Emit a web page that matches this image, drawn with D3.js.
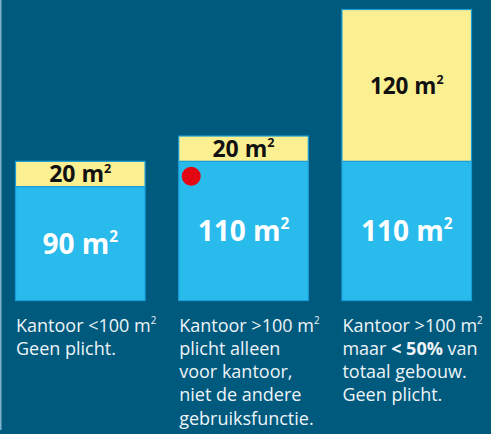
<!DOCTYPE html>
<html>
<head>
<meta charset="utf-8">
<script src="https://cdn.jsdelivr.net/npm/d3@7"></script>
<style>
  html, body { margin: 0; padding: 0; background: #005a7e; }
  svg { display: block; }
</style>
</head>
<body>
<svg></svg>
<script>
  var width = 491;
  var height = 434;

  // data
  var categories = ['a', 'b', 'c'];
  var kantoor = [90, 110, 110];     // blauw
  var overig = [20, 20, 120];       // geel
  var captions = [
    ['Kantoor <100 m^2', 'Geen plicht.'],
    ['Kantoor >100 m^2', 'plicht alleen', 'voor kantoor,', 'niet de andere', 'gebruiksfunctie.'],
    ['Kantoor >100 m^2', 'maar **< 50%** van', 'totaal gebouw.', 'Geen plicht.']
  ];
  var markIndex = 1; // rode stip

  var svg = d3.select('svg')
    .attr('width', width)
    .attr('height', height)
    .style('font-family', '"Open Sans", "Noto Sans", sans-serif');

  svg.append('rect')
    .attr('width', width)
    .attr('height', height)
    .attr('fill', '#005a7e');

  // dunne lijn links
  svg.append('rect')
    .attr('x', 0)
    .attr('y', 0)
    .attr('width', 1.5)
    .attr('height', 430)
    .attr('fill', '#7fb3cc');

  var x = d3.scaleBand()
    .domain(categories)
    .range([15, 472])
    .paddingInner(0.2)
    .paddingOuter(0);

  var y = d3.scaleLinear()
    .domain([0, 230])
    .range([300.5, 9.5]);

  // "m" met kleine superscript 2
  function m2(sel, value) {
    sel.append('tspan').text(value + ' m');
    sel.append('tspan')
      .attr('font-size', '0.55em')
      .attr('dy', '-0.75em')
      .text('2');
  }

  var g = svg.selectAll('g.bar')
    .data(categories)
    .enter()
    .append('g')
    .attr('class', 'bar');

  // blauw deel
  g.append('rect')
    .attr('x', function (d) { return x(d) + 0.5; })
    .attr('y', function (d, i) { return y(kantoor[i]); })
    .attr('width', x.bandwidth() - 1)
    .attr('height', function (d, i) { return y(0) - y(kantoor[i]); })
    .attr('fill', '#2abbed')
    .attr('stroke', '#1a9ed9')
    .attr('stroke-width', 1.2);

  // geel deel
  g.append('rect')
    .attr('x', function (d) { return x(d) + 0.5; })
    .attr('y', function (d, i) { return y(kantoor[i] + overig[i]); })
    .attr('width', x.bandwidth() - 1)
    .attr('height', function (d, i) { return y(kantoor[i]) - y(kantoor[i] + overig[i]); })
    .attr('fill', '#faf091')
    .attr('stroke', '#1a9ed9')
    .attr('stroke-width', 1.2);

  g.append('text')
    .attr('x', function (d) { return x(d) + x.bandwidth() / 2; })
    .attr('y', function (d, i) { return (y(0) + y(kantoor[i])) / 2; })
    .attr('dy', '0.36em')
    .attr('text-anchor', 'middle')
    .attr('fill', '#ffffff')
    .attr('font-size', 28)
    .attr('font-weight', 700)
    .each(function (d, i) { m2(d3.select(this), kantoor[i]); });

  g.append('text')
    .attr('x', function (d) { return x(d) + x.bandwidth() / 2; })
    .attr('y', function (d, i) { return (y(kantoor[i]) + y(kantoor[i] + overig[i])) / 2; })
    .attr('dy', '0.36em')
    .attr('text-anchor', 'middle')
    .attr('fill', '#111111')
    .attr('font-size', function (d, i) { return overig[i] > 50 ? 22.5 : 23; })
    .attr('font-weight', 700)
    .each(function (d, i) { m2(d3.select(this), overig[i]); });

  // rode stip
  svg.append('circle')
    .attr('cx', x(categories[markIndex]) + 13)
    .attr('cy', y(kantoor[markIndex]) + 15)
    .attr('r', 9.5)
    .attr('fill', '#e30613');

  // bijschriften
  g.each(function (d, i) {
    var t = d3.select(this).append('text')
      .attr('x', x(d) + 1)
      .attr('y', 331.5)
      .attr('fill', '#eef4f7')
      .attr('font-size', 18);
    captions[i].forEach(function (line, j) {
      var parts = line.split('**');
      parts.forEach(function (p, k) {
        var sup = p.split('^');
        var ts = t.append('tspan').text(sup[0]);
        if (k === 0) {
          ts.attr('x', x(d) + 1).attr('y', 331.5 + j * 23.3);
        }
        if (k % 2 === 1) ts.attr('font-weight', 700);
        if (sup.length > 1) {
          t.append('tspan')
            .attr('font-size', '0.55em')
            .attr('dy', '-0.75em')
            .text(sup[1]);
        }
      });
    });
  });
</script>
</body>
</html>
